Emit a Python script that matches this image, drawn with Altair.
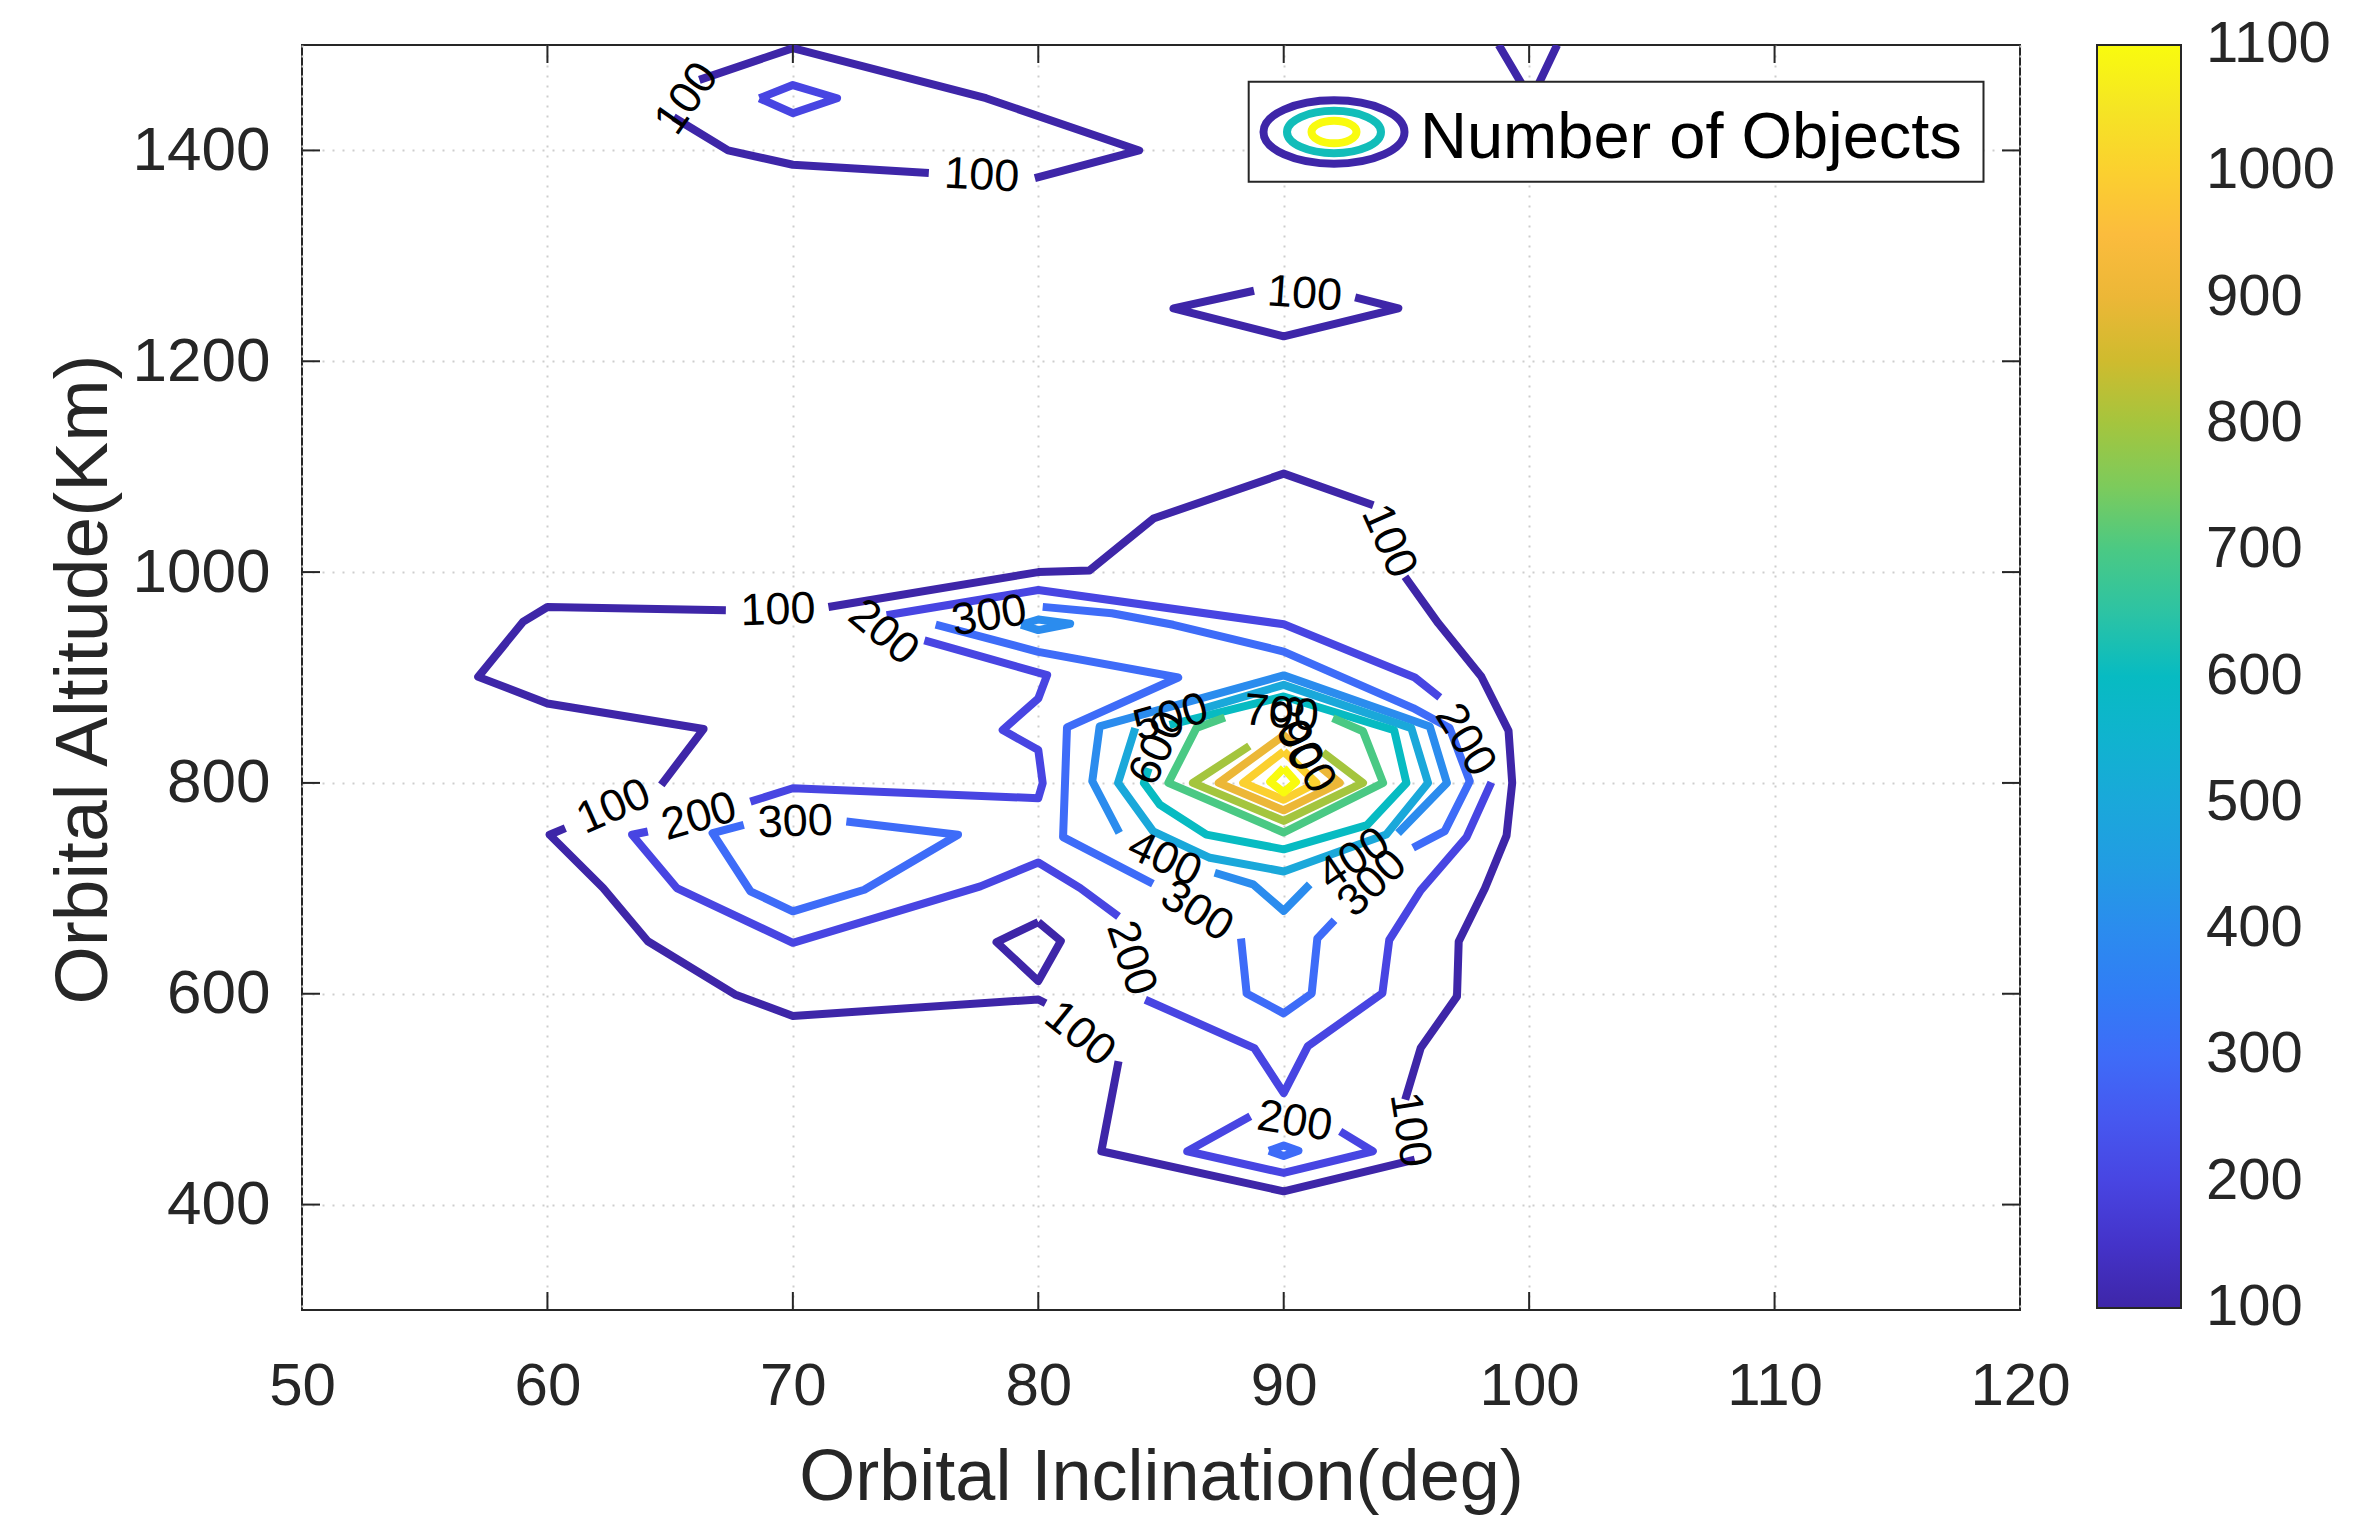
import altair as alt
import pandas as pd

FONT = "Liberation Sans"
INK = "#262626"

# ---------------- axis / colour-bar values ----------------
X_TICKS = [50, 60, 70, 80, 90, 100, 110, 120]
Y_TICKS = [400, 600, 800, 1000, 1200, 1400]
X_INNER_TICKS = [60, 70, 80, 90, 100, 110]
CB_LABELS = [100, 200, 300, 400, 500, 600, 700, 800, 900, 1000, 1100]
CB_TICKS = [200, 300, 400, 500, 600, 700, 800, 900, 1000]
CB_STOPS = [100, 150, 200, 250, 300, 350, 400, 450, 500, 550, 600,
            650, 700, 750, 800, 850, 900, 950, 1000, 1050, 1100]
CB_COLORS = ["#3e26a8", "#4433c9", "#4845e2", "#4658f0", "#3e6cf8", "#317df5",
             "#2b8cee", "#229ce3", "#1aa8da", "#10b3cf", "#07bbc2", "#2cc3a4",
             "#4ac984", "#7ccb5c", "#a4c53e", "#cfbb2e", "#ecb737", "#fbbc3d",
             "#fbd02f", "#f5e524", "#f9fb0e"]

# ---------------- contour polylines: (inclination deg, altitude km) ----------------
L100_TOPLOOP_A = [(66.19, 1466.9), (70.0, 1497.0), (77.87, 1449.5), (84.11, 1400.0), (79.86, 1373.8)]
L100_TOPLOOP_B = [(75.54, 1378.5), (70.0, 1386.4), (67.36, 1400.0), (65.14, 1431.5)]
L100_TOPRIGHT_V = [(98.76, 1500.0), (100.08, 1448.0), (101.14, 1500.0)]
L100_DIAMOND = [(92.91, 1260.6), (94.67, 1250.2), (90.0, 1223.7), (85.51, 1250.2), (88.79, 1266.9)]
L100_MAIN_1 = [(67.27, 963.7), (60.0, 966.9), (59.0, 952.7), (57.18, 900.6), (60.0, 875.4),
               (66.36, 851.1), (64.64, 798.1)]
L100_MAIN_2 = [(60.73, 757.1), (60.09, 750.8), (62.27, 700.3), (64.09, 649.8), (67.64, 599.4),
               (70.0, 578.9), (80.0, 594.6), (80.3, 591.0)]
L100_MAIN_3 = [(83.27, 535.9), (82.57, 450.6), (90.0, 412.6), (95.34, 442.7)]
L100_MAIN_4 = [(94.95, 499.5), (95.58, 548.5), (97.06, 597.5), (97.13, 649.6), (98.2, 700.0),
               (99.08, 750.0), (99.31, 800.0), (99.16, 849.5), (98.05, 901.0), (96.3, 951.4),
               (94.94, 995.6)]
L100_MAIN_5 = [(93.65, 1063.4), (90.0, 1093.4), (84.69, 1050.8), (82.09, 1001.6), (80.0, 1000.0),
               (71.45, 966.9)]
L100_TRIANGLE = [(80.0, 668.0), (80.92, 650.0), (80.0, 612.0), (78.3, 649.0), (80.0, 668.0)]

L200_DIAMOND = [(68.64, 1449.5), (70.0, 1462.0), (71.8, 1449.5), (70.0, 1435.3), (68.64, 1449.5)]
L200_MAIN_1 = [(75.36, 935.3), (80.36, 902.2), (80.0, 880.1), (78.55, 850.2), (80.0, 831.2),
               (80.18, 799.7), (80.0, 785.5), (70.0, 794.9), (68.27, 782.3)]
L200_MAIN_2 = [(64.09, 753.9), (63.45, 750.8), (65.27, 700.3), (70.0, 648.3), (77.64, 701.9),
               (80.0, 724.5), (81.71, 700.2), (83.27, 673.3)]
L200_MAIN_3 = [(84.36, 594.3), (88.8, 548.5), (90.0, 505.8), (90.98, 550.1), (94.02, 600.5),
               (94.3, 651.0), (95.58, 698.0), (97.45, 748.6), (98.46, 800.6)]
L200_MAIN_4 = [(96.36, 881.1), (95.34, 900.0), (90.0, 950.5), (80.0, 983.0), (73.82, 959.0)]
L200_BOTTOM = [(92.3, 469.5), (93.63, 450.6), (90.0, 430.0), (86.07, 450.6), (88.64, 483.7)]

L300_LEFT_LOOP = [(72.18, 763.4), (76.73, 750.8), (72.91, 698.7), (70.0, 678.2), (68.27, 697.2),
                  (66.73, 752.4), (68.0, 760.3)]
L300_MAIN_1 = [(80.18, 967.0), (83.0, 961.0), (85.5, 950.0), (90.0, 924.6), (95.27, 871.0),
               (96.76, 852.0), (97.58, 801.6), (96.56, 754.3), (95.27, 738.5)]
L300_MAIN_2 = [(92.07, 669.7), (91.37, 652.4), (91.14, 600.3), (90.0, 581.4), (88.49, 600.3),
               (88.26, 652.4)]
L300_MAIN_3 = [(84.67, 704.4), (81.01, 748.6), (81.17, 852.7), (85.7, 900.0), (80.0, 924.3),
               (75.82, 950.2)]
L300_DOT = [(89.4, 451.0), (90.0, 456.0), (90.6, 451.0), (90.0, 446.0), (89.4, 451.0)]

L400_BLOB = [(79.3, 950.0), (80.0, 955.0), (81.3, 951.0), (80.0, 945.0), (79.3, 950.0)]
L400_RING_1 = [(87.19, 714.8), (88.75, 703.8), (90.0, 678.6), (91.06, 703.8)]
L400_RING_2 = [(94.66, 752.4), (96.65, 800.0), (95.95, 853.6), (90.0, 902.0), (82.5, 853.6),
               (82.2, 801.6), (83.3, 752.7)]
L500_RING = [(86.8, 871.0), (90.0, 893.0), (95.2, 852.0), (95.88, 800.0), (94.18, 751.0),
             (90.0, 716.0), (86.99, 729.0), (84.68, 754.0), (83.25, 800.0), (83.95, 852.0)]
L600_RING = [(85.35, 855.0), (90.0, 882.0), (94.5, 850.0), (95.0, 800.0), (93.4, 760.0),
             (90.0, 737.0), (86.85, 751.0), (84.95, 779.5), (84.3, 800.0), (84.5, 814.0)]
L700_RING = [(92.0, 861.5), (93.23, 849.0), (94.05, 800.0), (90.0, 753.0), (85.3, 800.0),
             (86.44, 852.0), (87.6, 862.0)]
L800_RING = [(91.6, 829.0), (93.23, 800.0), (90.0, 764.0), (86.3, 800.0), (88.6, 835.0)]
L900_RING = [(91.5, 815.0), (92.28, 800.0), (90.0, 774.0), (87.35, 800.0), (90.0, 845.0),
             (90.4, 836.0)]
L1000_RING = [(90.0, 830.0), (88.35, 800.0), (90.0, 784.0), (91.33, 800.0), (90.0, 830.0)]
L1100_RING = [(90.0, 814.0), (89.45, 801.0), (90.0, 791.0), (90.5, 801.0), (90.0, 814.0)]

SEGMENTS = [
    (100, L100_TOPLOOP_A), (100, L100_TOPLOOP_B), (100, L100_TOPRIGHT_V), (100, L100_DIAMOND),
    (100, L100_MAIN_1), (100, L100_MAIN_2), (100, L100_MAIN_3), (100, L100_MAIN_4),
    (100, L100_MAIN_5), (100, L100_TRIANGLE),
    (200, L200_DIAMOND), (200, L200_MAIN_1), (200, L200_MAIN_2), (200, L200_MAIN_3),
    (200, L200_MAIN_4), (200, L200_BOTTOM),
    (300, L300_LEFT_LOOP), (300, L300_MAIN_1), (300, L300_MAIN_2), (300, L300_MAIN_3),
    (300, L300_DOT),
    (400, L400_BLOB), (400, L400_RING_1), (400, L400_RING_2),
    (500, L500_RING), (600, L600_RING), (700, L700_RING), (800, L800_RING),
    (900, L900_RING), (1000, L1000_RING), (1100, L1100_RING),
]

# ---------------- contour labels ----------------
LBL_TEXT = ["100", "100", "100", "100", "100", "100", "100", "100",
            "200", "200", "200", "200", "200",
            "300", "300", "300", "300",
            "400", "400", "500", "600", "700", "800", "900"]
LBL_X = [65.67, 77.7, 90.85, 69.4, 62.7, 81.7, 95.15, 94.3,
         73.7, 66.18, 83.8, 97.41, 90.45,
         78.0, 70.1, 86.47, 93.6,
         85.15, 92.86, 85.4, 84.85, 89.9, 90.45, 90.9]
LBL_Y = [1449.2, 1376.2, 1263.8, 964.0, 777.6, 562.0, 471.0, 1029.5,
         943.0, 768.1, 633.8, 840.9, 479.0,
         958.6, 763.0, 678.4, 705.0,
         728.0, 728.0, 862.0, 833.0, 866.0, 847.0, 825.0]
LBL_ANG = [305, 3, 4, 358, 336, 39, 81, 66,
           40, 344, 72, 59, 9,
           351, 358, 32, 317,
           25, 326, 344, 295, 5, 70, 60]

# ---------------- build tables ----------------
rows = []
for sid, (lvl, pts) in enumerate(SEGMENTS):
    for i, (xv, yv) in enumerate(pts):
        rows.append({"seg": sid, "level": lvl, "ord": i, "inc": xv, "alt": yv})
lines_df = pd.DataFrame(rows)
labels_df = pd.DataFrame({"t": LBL_TEXT, "inc": LBL_X, "alt": LBL_Y, "a": LBL_ANG})
cb_df = pd.DataFrame({"v": CB_LABELS})

W, H = 1718, 1265
CB_X, CB_W, CB_LEN = 1795, 84, 1263
XS = alt.Scale(domain=[50, 120], nice=False, zero=False)
YS = alt.Scale(domain=[300, 1500], nice=False, zero=False)
CBS = alt.Scale(domain=[100, 1100], range=[CB_LEN, 0], nice=False, zero=False)

x_axis = alt.Axis(values=X_TICKS, format="d", title="Orbital Inclination(deg)",
                  grid=True, gridColor="#cdcdcd", gridDash=[2, 8], gridWidth=2,
                  ticks=False, tickSize=0, domain=False,
                  labelFont=FONT, labelFontSize=60, labelColor=INK, labelPadding=94,
                  labelBaseline="alphabetic", labelFlush=False, labelOverlap=False,
                  titleFont=FONT, titleFontSize=72, titleColor=INK, titleFontWeight="normal",
                  titleBaseline="alphabetic", titleY=189)
y_axis = alt.Axis(values=Y_TICKS, format="d", title="Orbital Altitude(Km)",
                  grid=True, gridColor="#cdcdcd", gridDash=[2, 8], gridWidth=2,
                  ticks=False, tickSize=0, domain=False,
                  labelFont=FONT, labelFontSize=62, labelColor=INK, labelPadding=32,
                  labelBaseline="middle", labelFlush=False, labelOverlap=False,
                  titleFont=FONT, titleFontSize=75, titleColor=INK, titleFontWeight="normal",
                  titleAngle=270, titleAlign="center", titleBaseline="alphabetic",
                  titleX=-196, titleY=634)

color_legend = alt.Legend(orient="none", legendX=CB_X, legendY=0, direction="vertical",
                          gradientLength=CB_LEN, gradientThickness=CB_W,
                          gradientStrokeColor=INK, gradientStrokeWidth=2,
                          values=CB_LABELS, format="d", labelOpacity=0, labelFontSize=10,
                          padding=0, title=None)

lines = alt.Chart(lines_df).mark_line(strokeWidth=8, strokeJoin="round", strokeCap="butt",
                                      clip=True).encode(
    x=alt.X("inc:Q", scale=XS, axis=x_axis),
    y=alt.Y("alt:Q", scale=YS, axis=y_axis),
    color=alt.Color("level:Q", scale=alt.Scale(domain=CB_STOPS, range=CB_COLORS),
                    legend=color_legend),
    detail="seg:N",
    order="ord:Q",
)

labels = alt.Chart(labels_df).mark_text(font=FONT, fontSize=45, color="black",
                                        align="center", baseline="middle").encode(
    x=alt.X("inc:Q", scale=XS),
    y=alt.Y("alt:Q", scale=YS, axis=None),
    text="t:N",
    angle=alt.Angle("a:Q", scale=None),
)

xt_df = pd.DataFrame({"inc": X_INNER_TICKS})
yt_df = pd.DataFrame({"alt": Y_TICKS})
tick_style = dict(color=INK, strokeWidth=2)
x_ticks_bottom = alt.Chart(xt_df).mark_rule(**tick_style).encode(
    x=alt.X("inc:Q", scale=XS), y=alt.value(H), y2=alt.value(H - 18))
x_ticks_top = alt.Chart(xt_df).mark_rule(**tick_style).encode(
    x=alt.X("inc:Q", scale=XS), y=alt.value(0), y2=alt.value(18))
y_ticks_left = alt.Chart(yt_df).mark_rule(**tick_style).encode(
    y=alt.Y("alt:Q", scale=YS, axis=None), x=alt.value(0), x2=alt.value(18))
y_ticks_right = alt.Chart(yt_df).mark_rule(**tick_style).encode(
    y=alt.Y("alt:Q", scale=YS, axis=None), x=alt.value(W), x2=alt.value(W - 18))

cb_ticks = alt.Chart(pd.DataFrame({"v": CB_TICKS})).mark_rule(**tick_style).encode(
    y=alt.Y("v:Q", scale=CBS, axis=None),
    x=alt.value(CB_X + CB_W - 12), x2=alt.value(CB_X + CB_W))
cb_labels = alt.Chart(cb_df).mark_text(font=FONT, fontSize=58, color=INK, align="left",
                                       baseline="middle").encode(
    y=alt.Y("v:Q", scale=CBS, axis=None),
    x=alt.value(CB_X + CB_W + 25),
    text=alt.Text("v:Q", format="d"))

one = pd.DataFrame({"k": [0]})
legend_box = alt.Chart(one).mark_rect(fill="white", stroke=INK, strokeWidth=2).encode(
    x=alt.value(946.7), x2=alt.value(1681.5), y=alt.value(36.7), y2=alt.value(136.7))
ELLIPSE = "M-1,0A1,0.45,0,1,1,1,0A1,0.45,0,1,1,-1,0Z"
ELLIPSE_IN = "M-1,0A1,0.5,0,1,1,1,0A1,0.5,0,1,1,-1,0Z"
icon_outer = alt.Chart(one).mark_point(shape=ELLIPSE, size=141 ** 2, filled=False, opacity=1,
                                       stroke="#3e26a8", strokeWidth=8).encode(
    x=alt.value(1032), y=alt.value(87))
icon_mid = alt.Chart(one).mark_point(shape=ELLIPSE, size=94 ** 2, filled=False, opacity=1,
                                     stroke="#12bdb9", strokeWidth=8).encode(
    x=alt.value(1032), y=alt.value(87))
icon_in = alt.Chart(one).mark_point(shape=ELLIPSE_IN, size=45 ** 2, filled=False, opacity=1,
                                    stroke="#f9fb0e", strokeWidth=8).encode(
    x=alt.value(1032), y=alt.value(87))
legend_text = alt.Chart(one).mark_text(text="Number of Objects", font=FONT, fontSize=65,
                                       color="black", align="left",
                                       baseline="alphabetic").encode(
    x=alt.value(1118), y=alt.value(113))

chart = alt.layer(
    lines, labels, x_ticks_bottom, x_ticks_top, y_ticks_left, y_ticks_right,
    cb_ticks, cb_labels,
    legend_box, icon_outer, icon_mid, icon_in, legend_text,
).resolve_scale(y="independent").properties(
    width=W, height=H,
    autosize=alt.AutoSizeParams(type="none"),
    padding={"left": 294, "top": 37, "right": 330, "bottom": 225},
    background="white",
).configure_view(stroke=INK, strokeWidth=2)

chart.save("out.html", embed_options={"renderer": "svg", "actions": False})
